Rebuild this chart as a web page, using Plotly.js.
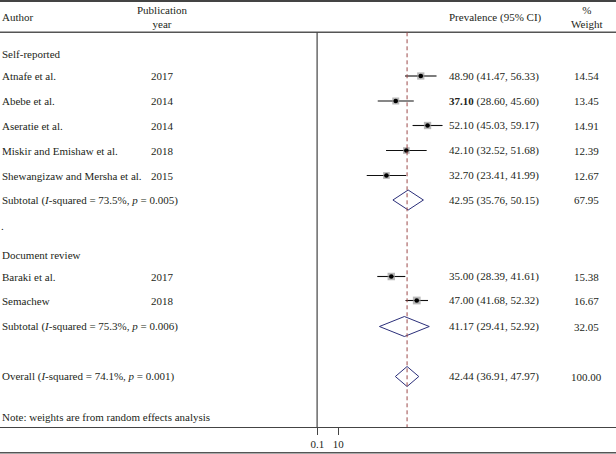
<!DOCTYPE html>
<html>
<head>
<meta charset="utf-8">
<script src="https://cdn.plot.ly/plotly-3.0.1.min.js"></script>
<style>html,body{margin:0;padding:0;background:#fff;}#chart{width:616px;height:454px;}</style>
</head>
<body>
<div id="chart"></div>
<script>
// ---------- data ----------
const groupNames = ["Self-reported", "Document review"];
const studies = ["Atnafe et al.", "Abebe et al.", "Aseratie et al.", "Miskir and Emishaw et al.", "Shewangizaw and Mersha et al.", "Baraki et al.", "Semachew"];
const studyGroup = [0, 0, 0, 0, 0, 1, 1];
const years = ["2017", "2014", "2014", "2018", "2015", "2017", "2018"];
const prevalence = [48.90, 37.10, 52.10, 42.10, 32.70, 35.00, 47.00];
const ciLow = [41.47, 28.60, 45.03, 32.52, 23.41, 28.39, 41.68];
const ciHigh = [56.33, 45.60, 59.17, 51.68, 41.99, 41.61, 52.32];
const weights = [14.54, 13.45, 14.91, 12.39, 12.67, 15.38, 16.67];

const pooledLabels = ["Subtotal (<i>I</i>-squared = 73.5%, <i>p</i> = 0.005)",
                      "Subtotal (<i>I</i>-squared = 75.3%, <i>p</i> = 0.006)",
                      "Overall (<i>I</i>-squared = 74.1%, <i>p</i> = 0.001)"];
const pooledEst = [42.95, 41.17, 42.44];
const pooledLow = [35.76, 29.41, 36.91];
const pooledHigh = [50.15, 52.92, 47.97];
const pooledWeight = [67.95, 32.05, 100.00];

const axisTicks = [0.1, 10];
const axisTickText = ["0.1", "10"];
const noteText = "Note: weights are from random effects analysis";

// ---------- layout (pixel rows) ----------
const W = 616, H = 454, plotH = 427;
const headerY = 17;
const groupRowY = [54, 255];
const studyRowY = [76, 101, 125.5, 150.5, 175.5, 276.5, 300.5];
const pooledRowY = [200, 326.5, 376.5];
const noteY = 416.5;
const boldEst = [false, true, false, false, false, false, false];
const zeroPx = 317.1, pxPerUnit = 2.12;
const xRange = [-zeroPx / pxPerUnit, (W - zeroPx) / pxPerUnit];

const txtColor = "#231f20";
const font = {family: "Liberation Serif, Times New Roman, serif", size: 11, color: txtColor};
const px = v => v / W;

const annotations = [];
function addText(text, xpx, y, anchor) {
  annotations.push({text: text, x: px(xpx), xref: "paper", y: y, yref: "y",
    xanchor: anchor, yanchor: "middle", showarrow: false, font: font, borderpad: 0, borderwidth: 0});
}
// headers
addText("Author", 2, headerY, "left");
addText("Publication<br>year", 162, headerY, "center");
addText("Prevalence (95% CI)", 449, headerY, "left");
addText("%<br>Weight", 586.5, headerY, "center");
groupNames.forEach((g, i) => addText(g, 2, groupRowY[i], "left"));
addText(".", 1, 226, "left");
studies.forEach((s, i) => {
  addText(s, 2, studyRowY[i], "left");
  addText(years[i], 162.5, studyRowY[i], "center");
  const e = boldEst[i] ? "<b>" + prevalence[i].toFixed(2) + "</b>" : prevalence[i].toFixed(2);
  addText(e + " (" + ciLow[i].toFixed(2) + ", " + ciHigh[i].toFixed(2) + ")", 449, studyRowY[i], "left");
  addText(weights[i].toFixed(2), 586.5, studyRowY[i], "center");
});
pooledLabels.forEach((s, i) => {
  addText(s, 2, pooledRowY[i], "left");
  addText(pooledEst[i].toFixed(2) + " (" + pooledLow[i].toFixed(2) + ", " + pooledHigh[i].toFixed(2) + ")", 449, pooledRowY[i], "left");
  addText(pooledWeight[i].toFixed(2), 586.5, pooledRowY[i], "center");
});
addText(noteText, 2, noteY, "left");

// ---------- traces ----------
const traces = [];
// study squares with CI lines
traces.push({
  type: "scatter", mode: "markers", x: prevalence, y: studyRowY,
  error_x: {type: "data", symmetric: false,
    array: prevalence.map((p, i) => ciHigh[i] - p),
    arrayminus: prevalence.map((p, i) => p - ciLow[i]),
    color: "#111", thickness: 1.1, width: 0},
  marker: {symbol: "square", color: "#9a9a9a", size: weights.map(w => Math.sqrt(w) * 1.9), line: {width: 0}},
  hoverinfo: "skip", showlegend: false
});
traces.push({
  type: "scatter", mode: "markers", x: prevalence, y: studyRowY,
  marker: {symbol: "circle", color: "#000", size: 4.6},
  hoverinfo: "skip", showlegend: false
});
// diamonds
const halfH = 10;
pooledEst.forEach((e, i) => {
  const y = pooledRowY[i];
  traces.push({
    type: "scatter", mode: "lines",
    x: [pooledLow[i], e, pooledHigh[i], e, pooledLow[i]],
    y: [y, y - halfH, y, y + halfH, y],
    line: {color: "#2b2f7a", width: 1}, fill: "toself", fillcolor: "rgba(255,255,255,0)",
    hoverinfo: "skip", showlegend: false
  });
});

// ---------- shapes ----------
const overall = pooledEst[pooledEst.length - 1];
const shapes = [
  {type: "line", xref: "paper", yref: "y", x0: 0, x1: 1, y0: 1, y1: 1, line: {color: "#444", width: 2}},
  {type: "line", xref: "paper", yref: "y", x0: 0, x1: 1, y0: 32.3, y1: 32.3, line: {color: "#555", width: 1.6}},
  {type: "line", xref: "x", yref: "y", x0: 0, x1: 0, y0: 32.3, y1: plotH, line: {color: "#444", width: 1.2}},
  {type: "line", xref: "x", yref: "y", x0: overall, x1: overall, y0: 32.3, y1: plotH, line: {color: "#9c4a4a", width: 1, dash: "4px,3px"}},
  {type: "line", xref: "paper", yref: "paper", x0: 0, x1: 1, y0: -(452.7 - plotH) / plotH, y1: -(452.7 - plotH) / plotH, line: {color: "#555", width: 1.6}}
];

const layout = {
  width: W, height: H,
  margin: {l: 0, r: 0, t: 0, b: H - plotH, pad: 0},
  paper_bgcolor: "#fff", plot_bgcolor: "#fff",
  showlegend: false,
  xaxis: {range: xRange, showgrid: false, zeroline: false, showline: true, linecolor: "#444", linewidth: 1.2,
    tickmode: "array", tickvals: axisTicks, ticktext: axisTickText, ticks: "outside", ticklen: 7, tickcolor: "#444",
    tickfont: font, fixedrange: true},
  yaxis: {range: [plotH, 0], visible: false, showgrid: false, zeroline: false, fixedrange: true},
  annotations: annotations,
  shapes: shapes
};

Plotly.newPlot("chart", traces, layout, {displayModeBar: false, staticPlot: true});
</script>
</body>
</html>
